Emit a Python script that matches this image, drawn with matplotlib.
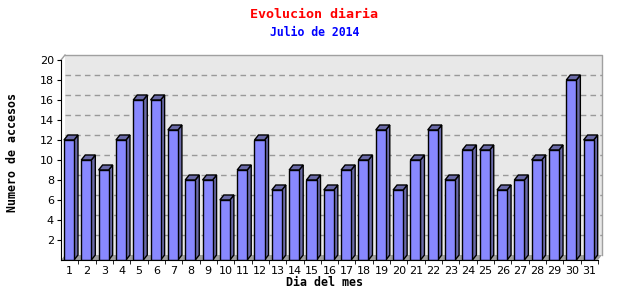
import matplotlib
matplotlib.use("Agg")
import matplotlib.pyplot as plt
from matplotlib.patches import Polygon
import numpy as np

# Datos: accesos por dia, julio 2014
dias = [str(d) for d in range(1, 32)]
accesos = [12, 10, 9, 12, 16, 16, 13, 8, 8, 6, 9, 12, 7, 9, 8, 7,
           9, 10, 13, 7, 10, 13, 8, 11, 11, 7, 8, 10, 11, 18, 12]
y_ticks = list(range(2, 21, 2))

titulo = "Evolucion diaria"
subtitulo = "Julio de 2014"
x_label = "Dia del mes"
y_label = "Numero de accesos"

frente = "#8888ff"
lado = "#6a6aa8"
pared = "#e8e8e8"
suelo = "#a0a0a0"
mono = "DejaVu Sans Mono"

fig = plt.figure(figsize=(6.4, 3.0), dpi=100)
W, H = 640, 300
x0, x1, y0, y1 = 61, 598, 60, 260
ax = fig.add_axes([x0 / W, 1 - y1 / H, (x1 - x0) / W, (y1 - y0) / H])
n = len(accesos)
ax.set_xlim(0, n)
ax.set_ylim(0, 20)
ax.set_facecolor("none")

# profundidad 3D en unidades de datos
dx = 4 / ((x1 - x0) / n)
dy = 5 / ((y1 - y0) / 20)

# pared del fondo
ax.add_patch(Polygon([(dx, dy), (n + dx, dy), (n + dx, 20 + dy), (dx, 20 + dy)],
                     closed=True, facecolor=pared, edgecolor="none",
                     clip_on=False, zorder=0))
ax.plot([dx, n + dx, n + dx], [20 + dy, 20 + dy, dy], color="#a0a0a0",
        lw=1, clip_on=False, zorder=1)
ax.plot([0, dx], [20, 20 + dy], color="#a0a0a0", lw=1, clip_on=False, zorder=1)
# suelo
ax.add_patch(Polygon([(0, 0), (n, 0), (n + dx, dy), (dx, dy)], closed=True,
                     facecolor=suelo, edgecolor="none", clip_on=False, zorder=1))
# rejilla
for t in y_ticks[:-1]:
    ax.plot([dx, n + dx], [t + dy, t + dy], color="#999999", lw=1,
            ls=(0, (4, 3)), clip_on=False, zorder=1)

# barras
bw = 0.58
left = np.arange(n) + 0.17
ax.bar(left, accesos, width=bw, align="edge", color=frente,
       edgecolor="black", linewidth=1, zorder=3)
for xl, v in zip(left, accesos):
    xr = xl + bw
    ax.add_patch(Polygon([(xr, 0), (xr + dx, dy), (xr + dx, v + dy), (xr, v)],
                         closed=True, facecolor=lado, edgecolor="black",
                         lw=1, zorder=2, clip_on=False))
    ax.add_patch(Polygon([(xl, v), (xr, v), (xr + dx, v + dy), (xl + dx, v + dy)],
                         closed=True, facecolor=lado, edgecolor="black",
                         lw=1, zorder=2, clip_on=False))

for s in ["top", "right"]:
    ax.spines[s].set_visible(False)
ax.spines["left"].set_zorder(5)
ax.spines["bottom"].set_zorder(5)

ax.set_yticks(y_ticks)
ax.set_yticklabels([str(t) for t in y_ticks], fontsize=8)
ax.tick_params(axis="y", length=3, pad=2)
ax.set_xticks(np.arange(n) + 0.5)
ax.set_xticklabels(dias, fontsize=8)
ax.set_xticks(np.arange(1, n + 1), minor=True)
ax.tick_params(axis="x", which="major", length=0, pad=4)
ax.tick_params(axis="x", which="minor", length=3, direction="out")

fig.text(314 / W, 1 - 14 / H, titulo, color="red", fontsize=9.6,
         family=mono, fontweight="bold", ha="center", va="center")
fig.text(315 / W, 1 - 32 / H, subtitulo, color="blue", fontsize=8.3,
         family=mono, fontweight="bold", ha="center", va="center")
fig.text(324 / W, 1 - 282 / H, x_label, fontsize=8.4, family=mono,
         fontweight="bold", ha="center", va="center")
fig.text(13 / W, 1 - 153 / H, y_label, fontsize=8.4, family=mono,
         fontweight="bold", ha="center", va="center", rotation=90)

fig.savefig("out.png", dpi=100)
